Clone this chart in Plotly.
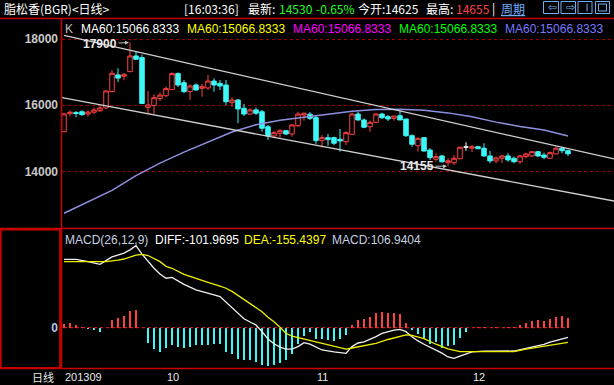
import plotly.graph_objects as go

# ---------------- data ----------------
idx = list(range(85))
opens = [15200, 15745, 15780, 15805, 15735, 15790, 15835, 15920, 16415, 16920,
         16880, 17020, 17495, 17445, 15935, 15995, 16205, 16290, 16475, 16960,
         16685, 16415, 16615, 16515, 16525, 16735, 16665, 16615, 16080, 16160,
         15910, 15735, 15860, 15805, 15350, 15070, 15150, 15230, 15130, 15380,
         15705, 15730, 15625, 14930, 15020, 15020, 14970, 14895, 15120, 15735,
         15555, 15350, 15485, 15735, 15655, 15605, 15685, 15585, 15080, 14775,
         15020, 14645, 14365, 14465, 14260, 14260, 14380, 14735, 14700, 14745,
         14700, 14465, 14315, 14395, 14465, 14395, 14290, 14445, 14465, 14595,
         14495, 14395, 14525, 14700, 14625]
highs = [15770, 15850, 15830, 15850, 15850, 15940, 15980, 16440, 17070, 17120,
         16980, 17900, 17645, 17535, 16435, 16335, 16390, 16570, 17000, 16995,
         16765, 16635, 16660, 16645, 16920, 16820, 16765, 16765, 16245, 16190,
         16040, 15910, 15930, 15860, 15405, 15230, 15280, 15250, 15425, 15805,
         15775, 15795, 15675, 15100, 15130, 15050, 15280, 15220, 15775, 15805,
         15605, 15535, 15775, 15775, 15705, 15675, 15835, 15585, 15120, 15020,
         15020, 14700, 14545, 14495, 14395, 14495, 14745, 14880, 14795, 14775,
         14850, 14615, 14445, 14495, 14545, 14445, 14495, 14565, 14615, 14615,
         14565, 14595, 14745, 14745, 14655]
lows = [15200, 15665, 15640, 15685, 15655, 15730, 15795, 15880, 16395, 16705,
        16760, 17000, 17375, 16055, 15730, 15730, 16130, 16250, 16465, 16555,
        16365, 16160, 16435, 16260, 16465, 16415, 16465, 16010, 15960, 15460,
        15675, 15705, 15705, 15200, 14950, 15000, 15020, 15100, 15050, 15350,
        15535, 15555, 14830, 14715, 14775, 14795, 14595, 14795, 15100, 15535,
        15305, 15200, 15465, 15585, 15525, 15535, 15555, 15040, 14745, 14595,
        14595, 14345, 14290, 14260, 14155, 14190, 14365, 14625, 14585, 14675,
        14445, 14245, 14245, 14245, 14290, 14245, 14220, 14395, 14435, 14435,
        14365, 14375, 14525, 14545, 14465]
closes = [15740, 15790, 15750, 15715, 15795, 15860, 15920, 16435, 16970, 16825,
          16940, 17495, 17395, 16055, 16010, 16230, 16310, 16505, 16960, 16615,
          16415, 16585, 16465, 16565, 16735, 16615, 16585, 16110, 16160, 15890,
          15735, 15860, 15760, 15305, 15070, 15170, 15230, 15130, 15405, 15735,
          15760, 15605, 14930, 15020, 14960, 14850, 14920, 15170, 15735, 15555,
          15335, 15485, 15735, 15625, 15585, 15675, 15555, 15080, 14820, 15000,
          14615, 14415, 14445, 14290, 14320, 14395, 14730, 14735, 14745, 14685,
          14465, 14315, 14405, 14465, 14345, 14290, 14465, 14525, 14595, 14465,
          14425, 14565, 14700, 14625, 14530]

ma_idx = [0, 4, 8, 12, 16, 20, 24, 28, 32, 36, 40, 44, 48, 52, 56, 60, 64, 68, 72, 76, 80, 84]
ma_vals = [12730, 13075, 13420, 13870, 14250, 14580, 14890, 15190, 15410, 15550, 15640,
           15730, 15820, 15875, 15880, 15850, 15770, 15650, 15490, 15360, 15250, 15067]

trend_up_x = [0, 91.67]
trend_up_y = [18115, 14373]
trend_lo_x = [-0.33, 91.67]
trend_lo_y = [16231, 13100]

macd_hist = [35, 50, 25, 5, -18, -28, -46, -5, 78, 106, 124, 173, 184, -5,
             -159, -223, -258, -216, -180, -205, -216, -205, -180, -180, -180, -170, -170,
             -258, -276, -329, -346, -346, -364, -392, -406, -400, -371, -346, -276, -170, -88,
             -46, -117, -117, -134, -145, -124, -74,
             25, 78, 88, 110, 155, 166, 159, 152, 141, 53,
             -28, -64, -110, -177, -152, -216, -198, -180, -110, -46, -5,
             8, 3, -3, 3, -3, 3, 3,
             25, 50, 67, 78, 67, 88, 113, 124, 106.94]

diff_idx = [0, 2, 4, 6, 8, 10, 11, 12, 13, 14, 15, 16, 17, 18, 19, 20, 22, 24, 25, 26, 27,
            28, 29, 30, 31, 32, 33, 34, 35, 36, 37, 38, 39, 40, 41, 42, 43, 45, 47, 48, 49,
            50, 51, 52, 53, 54, 55, 56, 57, 58, 59, 60, 61, 62, 63, 64, 65, 66, 67, 68, 70,
            72, 75, 77, 79, 80, 81, 82, 83, 84]
diff_vals = [725, 725, 700, 672, 750, 790, 825, 869, 780, 700, 630, 570, 524, 534, 495, 460,
             400, 360, 348, 330, 270, 206, 150, 95, 60, 29, -40, -120, -170, -205, -226, -226,
             -200, -158, -175, -205, -236, -255, -271, -200, -162, -150, -125, -95, -60, -40,
             -25, -17, -42, -95, -140, -175, -205, -235, -270, -310, -324, -300, -275, -255,
             -248, -247, -247, -218, -190, -176, -152, -135, -118, -101.97]
dea_idx = [0, 4, 7, 9, 10, 12, 13, 14, 15, 16, 17, 18, 20, 22, 24, 26, 27, 28, 30, 31, 32,
           33, 34, 35, 36, 37, 38, 40, 42, 44, 46, 47, 48, 50, 52, 54, 56, 57, 58, 59, 60,
           62, 64, 66, 75, 77, 79, 81, 84]
dea_vals = [700, 700, 700, 715, 728, 770, 778, 765, 735, 700, 650, 630, 565, 520, 480, 440,
            418, 385, 300, 260, 220, 170, 110, 64, 5, -59, -90, -120, -155, -180, -210, -226,
            -215, -190, -165, -125, -90, -77, -82, -95, -115, -175, -225, -254, -254, -228,
            -205, -185, -155.44]

price_ticks = [14000, 16000, 18000]
price_tick_text = ["14000", "16000", "18000"]
month_labels = ["201309", "10", "11", "12"]
month_pos = [0, 17, 42, 68]
ma_labels = ["MA60:15066.8333"] * 5

# ---------------- style ----------------
W, H = 614, 385
RED = "#ff4040"
CYAN = "#3cf8f8"
FRAME = "#c80000"
LAT = "Liberation Sans, Arial, sans-serif"
CJK = "Noto Sans CJK SC, sans-serif"


def px(x):
    return x / W


def py(y):
    return 1 - y / H


fig = go.Figure()

reg = [i for i in idx if opens[i] != closes[i]]
doji = [i for i in idx if opens[i] == closes[i]]

fig.add_trace(go.Candlestick(
    x=reg, open=[opens[i] for i in reg], high=[highs[i] for i in reg],
    low=[lows[i] for i in reg], close=[closes[i] for i in reg],
    increasing=dict(line=dict(color=RED, width=1), fillcolor="black"),
    decreasing=dict(line=dict(color=CYAN, width=1), fillcolor=CYAN),
    whiskerwidth=0, xaxis="x", yaxis="y", hoverinfo="skip"))
fig.add_trace(go.Candlestick(
    x=doji, open=[opens[i] for i in doji], high=[highs[i] for i in doji],
    low=[lows[i] for i in doji], close=[closes[i] for i in doji],
    increasing=dict(line=dict(color="white", width=1), fillcolor="white"),
    decreasing=dict(line=dict(color="white", width=1), fillcolor="white"),
    whiskerwidth=0, xaxis="x", yaxis="y", hoverinfo="skip"))

fig.add_trace(go.Scatter(x=ma_idx, y=ma_vals, mode="lines",
                         line=dict(color="#8f8fe0", width=1.5), xaxis="x", yaxis="y"))
fig.add_trace(go.Scatter(x=trend_up_x, y=trend_up_y, mode="lines",
                         line=dict(color="#d0d0d0", width=1.3), xaxis="x", yaxis="y"))
fig.add_trace(go.Scatter(x=trend_lo_x, y=trend_lo_y, mode="lines",
                         line=dict(color="#d0d0d0", width=1.3), xaxis="x", yaxis="y"))

# MACD panel
fig.add_trace(go.Bar(x=idx, y=macd_hist, width=0.18,
                     marker=dict(color=[RED if v > 0 else CYAN for v in macd_hist], line=dict(width=0)),
                     xaxis="x2", yaxis="y2"))
fig.add_trace(go.Scatter(x=[idx[0], idx[-1]], y=[0, 0], mode="lines",
                         line=dict(color="#ff2020", width=1, dash="dot"), xaxis="x2", yaxis="y2"))
fig.add_trace(go.Scatter(x=diff_idx, y=diff_vals, mode="lines",
                         line=dict(color="#f0f0f0", width=1.3), xaxis="x2", yaxis="y2"))
fig.add_trace(go.Scatter(x=dea_idx, y=dea_vals, mode="lines",
                         line=dict(color="#eeee00", width=1.3), xaxis="x2", yaxis="y2"))

xr = [-1 / 3, 91 + 2 / 3]
fig.update_layout(
    width=W, height=H, margin=dict(l=0, r=0, t=0, b=0),
    paper_bgcolor="black", plot_bgcolor="black", showlegend=False,
    boxgap=0.25, boxgroupgap=0, bargap=0, hovermode=False,
    xaxis=dict(domain=[px(62), 1], range=xr, visible=False, anchor="y",
               rangeslider=dict(visible=False), fixedrange=True),
    yaxis=dict(domain=[py(228), py(18)], range=[12282, 18645], anchor="x",
               tickvals=price_ticks, ticktext=price_tick_text,
               showgrid=True, gridcolor="#a00000", griddash="dot",
               gridwidth=1, zeroline=False, showline=False, ticks="", ticklabelstandoff=3,
               tickfont=dict(family=LAT, size=12, color="#c8c8c8", weight="bold")),
    xaxis2=dict(domain=[px(62), 1], range=xr, visible=False, anchor="y2", fixedrange=True),
    yaxis2=dict(domain=[py(368), py(229)], range=[-427, 1046], anchor="x2",
                tickvals=[0], ticktext=["0"], showgrid=False, zeroline=False, ticks="",
                ticklabelstandoff=3,
                tickfont=dict(family=LAT, size=12, color="#b0c8e8", weight="bold")),
)

# frame lines
shapes = [
    dict(type="line", xref="paper", yref="paper", x0=0, x1=1, y0=py(18.5), y1=py(18.5),
         line=dict(color=FRAME, width=1.5)),
    dict(type="line", xref="paper", yref="paper", x0=0, x1=1, y0=py(228.5), y1=py(228.5),
         line=dict(color=FRAME, width=1.5)),
    dict(type="line", xref="paper", yref="paper", x0=0, x1=1, y0=py(368.5), y1=py(368.5),
         line=dict(color=FRAME, width=1.5)),
    dict(type="line", xref="paper", yref="paper", x0=px(61.5), x1=px(61.5), y0=py(18.5), y1=py(368.5),
         line=dict(color=FRAME, width=1.5)),
    dict(type="rect", xref="paper", yref="paper", x0=px(0.8), x1=px(60), y0=py(229.5), y1=py(368),
         line=dict(color=FRAME, width=1.8)),
]
# header buttons
for bx0, bx1 in [(543.5, 558.5), (561, 575.5), (578, 592), (595.5, 609.5)]:
    shapes.append(dict(type="rect", xref="paper", yref="paper", x0=px(bx0), x1=px(bx1),
                       y0=py(13.5), y1=py(1.5), line=dict(color="#70acf0", width=1)))
shapes.append(dict(type="line", xref="paper", yref="paper", x0=px(587), x1=px(587),
                   y0=py(11.5), y1=py(3.5), line=dict(color="#70acf0", width=1)))
shapes.append(dict(type="rect", xref="paper", yref="paper", x0=px(598.5), x1=px(606.5),
                   y0=py(11), y1=py(4), line=dict(color="#70acf0", width=1)))
fig.update_layout(shapes=shapes)

ann = []


def txt(x, y, s, color, size=12, family=LAT, anchor="left", weight="normal"):
    ann.append(dict(xref="paper", yref="paper", x=px(x), y=py(y), text=s, showarrow=False,
                    xanchor=anchor, yanchor="middle",
                    font=dict(family=family, size=size, color=color, weight=weight)))


# header
txt(2, 8.5, "脂松香(BGR)<日线>", "#ffffff", 12, CJK)
txt(182, 8.5, "[16:03:36]", "#ffffff", 12, CJK)
txt(246, 8.5, "最新:", "#ffffff", 12, CJK)
txt(277, 8.5, "14530", "#20ff20", 12, CJK)
txt(314, 8.5, "-0.65%", "#20ff20", 12, CJK)
txt(356, 8.5, "今开:", "#ffffff", 12, CJK)
txt(383, 8.5, "14625", "#ffffff", 12, CJK)
txt(424, 8.5, "最高:", "#ffffff", 12, CJK)
txt(454, 8.5, "14655", "#ff4040", 12, CJK)
txt(490, 8.5, "|", "#ffffff", 12, CJK)
txt(499, 8.5, "<u>周期</u>", "#70b0ff", 12, CJK)
txt(546, 7.5, "⇦", "#70acf0", 11, "DejaVu Sans")
txt(563.5, 7.5, "⇨", "#70acf0", 11, "DejaVu Sans")

# main legend
txt(63, 29, "K", "#c0c0c0")
ma_cols = ["#ffffff", "#ffff00", "#ff00ff", "#00ff00", "#7878ff"]
for xx, lab, c in zip([79, 185, 291, 397, 503], ma_labels, ma_cols):
    txt(xx, 29, lab, c)

# MACD legend
txt(63, 240, "MACD(26,12,9)", "#c8d0e0")
txt(153, 240, "DIFF:-101.9695", "#ffffff")
txt(242, 240, "DEA:-155.4397", "#ffff00")
txt(330, 240, "MACD:106.9404", "#c8d0e0")

# bottom axis labels
txt(56, 376.5, "日线", "#e8e8e8", 11, CJK, anchor="right")
for pos, lab in zip(month_pos, month_labels):
    ann.append(dict(xref="x2", yref="paper", x=pos, y=py(376.5), text=lab, showarrow=False,
                    xanchor="left", yanchor="middle", xshift=-1.5,
                    font=dict(family=LAT, size=11, color="#e8e8e8")))

# high / low markers
ann.append(dict(xref="x", yref="y", x=11, y=highs[11], text="17900", showarrow=True,
                ax=-30, ay=1, arrowhead=2, arrowsize=0.8, arrowwidth=1, arrowcolor="#c0c0c0",
                standoff=1, font=dict(family=LAT, size=12, color="#e8e8e8", weight="bold")))
ann.append(dict(xref="x", yref="y", x=64, y=lows[64], text="14155", showarrow=True,
                ax=-31, ay=0, arrowhead=2, arrowsize=0.8, arrowwidth=1, arrowcolor="#c0c0c0",
                standoff=1, font=dict(family=LAT, size=12, color="#e8e8e8", weight="bold")))

fig.update_layout(annotations=ann)

fig.write_html("out.html", config=dict(displayModeBar=False, staticPlot=True),
               post_script="document.body.style.margin='0';document.body.style.overflow='hidden';")
